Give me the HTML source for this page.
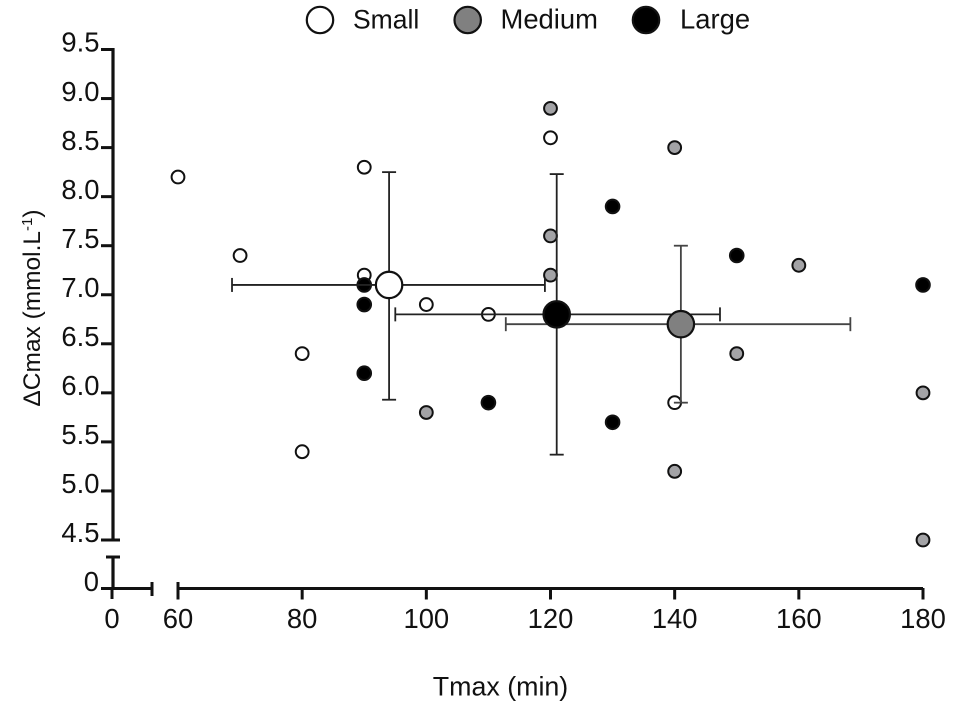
<!DOCTYPE html>
<html lang="en">
<head>
<meta charset="utf-8">
<title>Tmax vs delta Cmax</title>
<style>
html,body{margin:0;padding:0;background:#fff;}
svg{display:block;font-family:"Liberation Sans",Arial,sans-serif;fill:#111;}
</style>
</head>
<body>
<svg id="chart" width="957" height="708" viewBox="0 0 957 708" xmlns="http://www.w3.org/2000/svg"></svg>
<script>
const yTickLabels = ["4.5","5.0","5.5","6.0","6.5","7.0","7.5","8.0","8.5","9.0","9.5"];
const xTickLabels = [60,80,100,120,140,160,180];

const smallX = [60,70,80,80,90,90,100,110,120,140];
const smallY = [8.2,7.4,6.4,5.4,8.3,7.2,6.9,6.8,8.6,5.9];
const mediumX = [100,120,120,120,140,140,150,160,180,180];
const mediumY = [5.8,8.9,7.6,7.2,8.5,5.2,6.4,7.3,6.0,4.5];
const largeX = [90,90,90,110,130,130,150,180];
const largeY = [7.1,6.9,6.2,5.9,7.9,5.7,7.4,7.1];

const meanNames = ["small","medium","large"];
const meanX = [94,141,121];
const meanY = [7.1,6.7,6.8];
const meanXLow = [68.7,112.8,95];
const meanXHigh = [119.1,168.3,147.3];
const meanYLow = [5.93,5.9,5.37];
const meanYHigh = [8.25,7.5,8.23];

const svg = document.getElementById('chart');
const NS = 'http://www.w3.org/2000/svg';
const COLORS = {small:'#fff', medium:'#a3a3a6', large:'#000'};
const MEAN_COLORS = {small:'#fff', medium:'#808080', large:'#000'};
const BAR_COLORS = {small:'#222', medium:'#444', large:'#222'};
const POINT_R = {small:6.4, medium:6.4, large:6.8};
const FS = 27.4;

function sx(v){ return 178 + (v - 60) * (923 - 178) / 120; }
function sy(v){ return 540 - (v - 4.5) * (540 - 49.5) / 5; }

function make(tag, attrs, text){
  const el = document.createElementNS(NS, tag);
  for (const k in attrs) el.setAttribute(k, attrs[k]);
  if (text !== undefined) el.textContent = text;
  svg.appendChild(el);
  return el;
}
function line(x1,y1,x2,y2,w,color,name){
  const el = make('line',{x1:x1,y1:y1,x2:x2,y2:y2,stroke:color||'#111','stroke-width':w});
  
  
  return el;
}
function label(x,y,text,anchor,name,size){
  const el = make('text',{x:x,y:y,'text-anchor':anchor,'font-size':size||FS},text);
  
  
  return el;
}
function circle(cx,cy,r,fill,sw,name){
  const el = make('circle',{cx:cx,cy:cy,r:r,fill:fill,stroke:'#111','stroke-width':sw});
  
  
  return el;
}

/* axes */
line(113,48,113,541,3.2,'#111','y-axis-upper');
line(113,557,113,590,3.2,'#111','y-axis-lower');
line(106,557,120,557,3,'#111','y-axis-break-cap');
line(101,588.5,152,588.5,3,'#111','x-axis-left-segment');
line(178,588.5,923,588.5,3,'#111','x-axis-main-segment');
line(152,582,152,596,3,'#111','x-axis-break-cap');
line(112,588,112,599,3,'#111','x-tick-0');
label(112,628,'0','middle','x-tick-label-0');
label(99,591,'0','end','y-tick-label-0');

yTickLabels.forEach(function(t){
  const v = parseFloat(t);
  const y = sy(v);
  const isEnd = (t === '4.5');
  line(101, y, isEnd ? 120 : 113, y, 3, '#111', 'y-tick-' + t);
  label(99.5, y + 2.2, t, 'end', 'y-tick-label-' + t);
});
xTickLabels.forEach(function(v){
  const x = sx(v);
  line(x, v === 60 ? 582 : 588, x, 599.5, 3, '#111', 'x-tick-' + v);
  label(x, 628, String(v), 'middle', 'x-tick-label-' + v);
});

/* axis titles */
label(500.5, 695.5, 'Tmax (min)', 'middle', 'x-axis-title', 26.8);
const yTitle = make('text',{transform:'translate(40,308) rotate(-90)','text-anchor':'middle','font-size':24.5});


yTitle.innerHTML = '\u0394Cmax (mmol.L<tspan dy="-8" font-size="15">-1</tspan><tspan dy="8">)</tspan>';

/* points */
function drawPoints(xs, ys, group){
  xs.forEach(function(x,i){
    circle(sx(x), sy(ys[i]), POINT_R[group], COLORS[group], 2, group + '-point-' + i);
  });
}
drawPoints(smallX, smallY, 'small');
drawPoints(mediumX, mediumY, 'medium');
drawPoints(largeX, largeY, 'large');

/* means with error bars */
meanNames.forEach(function(g,i){
  const cx = sx(meanX[i]), cy = sy(meanY[i]);
  const x0 = sx(meanXLow[i]), x1 = sx(meanXHigh[i]);
  const y0 = sy(meanYHigh[i]), y1 = sy(meanYLow[i]);
  const c = BAR_COLORS[g];
  line(x0, cy, x1, cy, 1.8, c, g + '-x-error-bar');
  line(x0, cy - 7, x0, cy + 7, 1.8, c, g + '-x-error-cap-low');
  line(x1, cy - 7, x1, cy + 7, 1.8, c, g + '-x-error-cap-high');
  line(cx, y0, cx, y1, 1.8, c, g + '-y-error-bar');
  line(cx - 7, y0, cx + 7, y0, 1.8, c, g + '-y-error-cap-high');
  line(cx - 7, y1, cx + 7, y1, 1.8, c, g + '-y-error-cap-low');
});
meanNames.forEach(function(g,i){
  circle(sx(meanX[i]), sy(meanY[i]), 13.2, MEAN_COLORS[g], 2.2, g + '-mean-point');
});

/* legend */
const legendNames = ['Small','Medium','Large'];
const legendCx = [320,467.7,646];
const legendTx = [353,500.5,680];
const legendSize = [26.5,27.4,27.4];
legendNames.forEach(function(n,i){
  const key = n.toLowerCase();
  circle(legendCx[i], 20, 13.2, MEAN_COLORS[key], 2.2, 'legend-marker-' + key);
  label(legendTx[i], 28.5, n, 'start', 'legend-label-' + key, legendSize[i]);
});
</script>
</body>
</html>
